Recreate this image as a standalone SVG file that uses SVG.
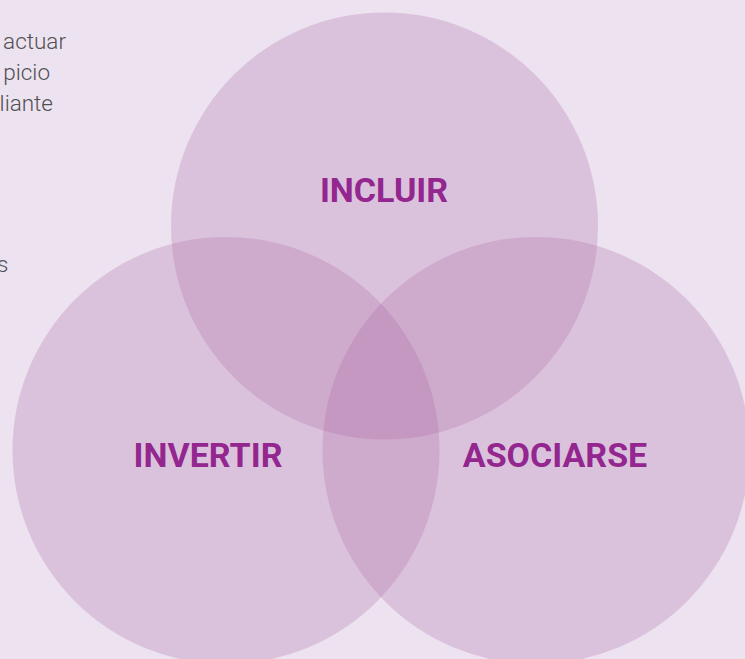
<svg xmlns="http://www.w3.org/2000/svg" width="745" height="659" viewBox="0 0 745 659">
<style>
.c{fill:#a662a1;fill-opacity:0.25}
.lbl{font-family:Roboto,"Liberation Sans",sans-serif;font-weight:700;font-size:34px;fill:#93268f;text-anchor:middle}
.side{font-family:Roboto,"Liberation Sans",sans-serif;font-weight:300;font-size:22.5px;fill:#505050;text-anchor:end}
</style>
<rect x="0" y="0" width="745" height="659" fill="#ede2f0"/>
<g id="side-text">
<text class="side" x="66" y="49">actuar</text>
<text class="side" x="50" y="80">picio</text>
<text class="side" x="53" y="111">liante</text>
<text class="side" x="8.5" y="272">s</text>
</g>
<g id="incluir">
<circle class="c" cx="384.5" cy="226" r="213.5"/>
<text class="lbl" x="384" y="202">INCLUIR</text>
</g>
<g id="invertir">
<circle class="c" cx="226" cy="450.5" r="213.5"/>
<text class="lbl" x="208" y="467">INVERTIR</text>
</g>
<g id="asociarse">
<circle class="c" cx="536" cy="450.5" r="213.5"/>
<text class="lbl" x="555" y="467">ASOCIARSE</text>
</g>
<g id="connectors"/>
</svg>
